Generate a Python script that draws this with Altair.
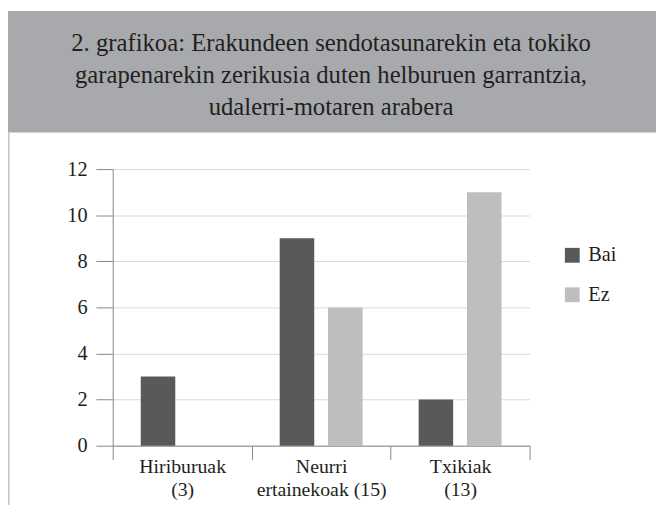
import altair as alt
import pandas as pd

# ---- data ----
title_lines = [
    "2. grafikoa: Erakundeen sendotasunarekin eta tokiko",
    "garapenarekin zerikusia duten helburuen garrantzia,",
    "udalerri-motaren arabera",
]
categories = ["Hiriburuak|(3)", "Neurri|ertainekoak (15)", "Txikiak|(13)"]
series = ["Bai", "Ez"]
bai_values = [3, 9, 2]
ez_values = [0, 6, 11]
y_ticks = [0, 2, 4, 6, 8, 10, 12]
colors = ["#58595b", "#bcbec0"]

rows = []
for c, b, e in zip(categories, bai_values, ez_values):
    rows.append({"cat": c, "serie": series[0], "value": b})
    rows.append({"cat": c, "serie": series[1], "value": e})
df = pd.DataFrame(rows)

FONT = "Times New Roman"
TEXT_COLOR = "#231f20"
AXIS_COLOR = "#868686"

band = alt.Chart(pd.DataFrame({"k": [0]})).mark_rect(color="#a7a9ac").encode(
    x=alt.value(-106), x2=alt.value(550), y=alt.value(-160), y2=alt.value(-37)
)
border = alt.Chart(pd.DataFrame({"k": [0]})).mark_rule(color="#c4c4c4", strokeWidth=1.5).encode(
    x=alt.value(-105.25), y=alt.value(-37), y2=alt.value(340)
)

title = alt.Chart(pd.DataFrame({"t": ["\n".join(title_lines)]})).mark_text(
    font=FONT, fontSize=25, color=TEXT_COLOR, align="center", baseline="alphabetic",
    lineBreak="\n", lineHeight=32.5
).encode(x=alt.value(221), y=alt.value(-120), text="t:N")

bars = alt.Chart(df).mark_bar().encode(
    x=alt.X(
        "cat:N", sort=categories,
        scale=alt.Scale(paddingInner=0, paddingOuter=0),
        axis=alt.Axis(
            title=None, labelAngle=0, tickBand="extent", grid=False,
            labelExpr="split(datum.label, '|')", labelLineHeight=23,
            labelFont=FONT, labelFontSize=20, labelColor=TEXT_COLOR,
            domainColor=AXIS_COLOR, tickColor=AXIS_COLOR, tickSize=14,
            labelPadding=-3,
        ),
    ),
    xOffset=alt.XOffset("serie:N", sort=series,
                        scale=alt.Scale(paddingInner=0.286, paddingOuter=0.58)),
    y=alt.Y(
        "value:Q",
        scale=alt.Scale(domain=[0, 12], nice=False),
        axis=alt.Axis(
            title=None, values=y_ticks, grid=True, gridColor="#d9d9d9",
            labelFont=FONT, labelFontSize=20.5, labelColor=TEXT_COLOR,
            domainColor=AXIS_COLOR, tickColor=AXIS_COLOR, tickSize=17,
            labelPadding=9,
        ),
    ),
    color=alt.Color(
        "serie:N", sort=series,
        scale=alt.Scale(domain=series, range=colors),
        legend=alt.Legend(
            title=None, orient="none", legendX=455, legendY=77, padding=0,
            symbolType="square", symbolSize=225, symbolStrokeWidth=0,
            labelFont=FONT, labelFontSize=20.5, labelColor=TEXT_COLOR,
            rowPadding=19, labelOffset=6,
        ),
    ),
)

chart = alt.layer(band, border, bars, title).properties(
    width=422, height=280,
    padding=0,
).configure_view(strokeWidth=0)

chart.save("out.html", embed_options={"renderer": "svg", "actions": False})
